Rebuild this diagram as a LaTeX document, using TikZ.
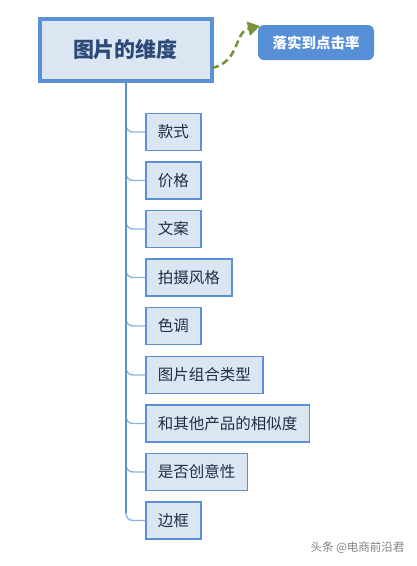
\documentclass[tikz,border=0pt]{standalone}
\usepackage{fontspec}
\setmainfont{Noto Sans CJK SC}
\usetikzlibrary{arrows.meta,positioning}
\definecolor{boxfill}{HTML}{DCE6F2}
\definecolor{boxline}{HTML}{5B8FD6}
\definecolor{branchc}{HTML}{8DB3E2}
\definecolor{titlec}{HTML}{2B4A78}
\definecolor{textc}{HTML}{1F2D45}
\definecolor{greenc}{HTML}{77933C}
\definecolor{tagfill}{HTML}{568FD6}
\tikzset{
  child/.style={draw=boxline, line width=1.8pt, fill=boxfill, anchor=west,
    minimum height=37pt, inner xsep=12pt, inner ysep=0pt, text=textc,
    font=\fontsize{15.5pt}{16pt}\selectfont},
  branch/.style={draw=branchc, line width=1.4pt, rounded corners=7pt},
}
\begin{document}
\begin{tikzpicture}[x=1pt,y=-1pt]
\useasboundingbox (0,0) rectangle (417,566);
\node[draw=boxline, line width=4pt, fill=boxfill, minimum width=172pt, minimum height=62pt,
  text=titlec, font=\fontsize{21pt}{22pt}\selectfont\bfseries] (main) at (125.5,49.5) {图片的维度};
\node[fill=tagfill, rounded corners=6pt, minimum width=116pt, minimum height=35pt, text=white,
  font=\fontsize{14.5pt}{15pt}\selectfont\bfseries] (tag) at (316,42.5) {落实到点击率};
\coordinate (trunktop) at (126,83);
\coordinate (dstart) at (212,68);
\coordinate (tip) at (260,26);
\draw[greenc, line width=2.6pt, dash pattern=on 7pt off 4pt, -{Triangle[length=12pt,width=14pt]}]
  (dstart) .. controls (240,62) and (234,32) .. (tip);
\node[child] (c1) at (145,132) {款式};
\node[child] (c2) at (145,180.5) {价格};
\node[child] (c3) at (145,229) {文案};
\node[child] (c4) at (145,277.5) {拍摄风格};
\node[child] (c5) at (145,326) {色调};
\node[child] (c6) at (145,375) {图片组合类型};
\node[child] (c7) at (145,423.5) {和其他产品的相似度};
\node[child] (c8) at (145,472) {是否创意性};
\node[child] (c9) at (145,520.5) {边框};
\foreach \c in {c1,c2,c3,c4,c5,c6,c7,c8,c9}{
  \draw[branch] (trunktop) |- (\c.west);
}
\coordinate (trunkbot) at (126,513);
\draw[boxline, line width=1.6pt] (trunktop) -- (trunkbot);
\node[text=gray, anchor=east, font=\fontsize{11.5pt}{12pt}\selectfont] (wm) at (408,548) {头条 @电商前沿君};
\end{tikzpicture}
\end{document}
